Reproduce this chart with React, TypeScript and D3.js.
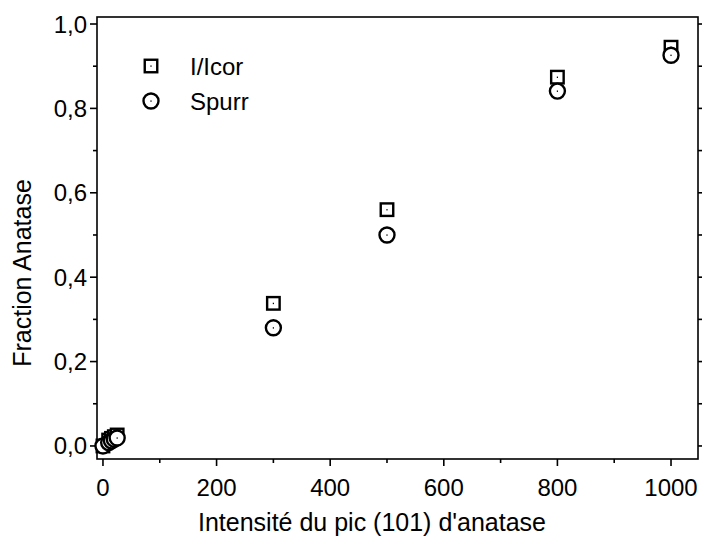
import React from "react";
import * as d3 from "d3";

const xValues = [0, 10, 15, 20, 25, 300, 500, 800, 1000];
const icorValues = [0, 0.014, 0.018, 0.022, 0.026, 0.338, 0.56, 0.874, 0.945];
const spurrValues = [0, 0.008, 0.012, 0.016, 0.019, 0.28, 0.5, 0.841, 0.926];
const xTicks = [0, 200, 400, 600, 800, 1000];
const xMinor = [100, 300, 500, 700, 900];
const yTicks = [0, 0.2, 0.4, 0.6, 0.8, 1.0];
const yMinor = [0.1, 0.3, 0.5, 0.7, 0.9];
const legendLabels = ["I/Icor", "Spurr"];

const W = 702, H = 544;
const L = 97, R = 698, T = 17, B = 459;
const FONT = "Arial, 'Liberation Sans', sans-serif";
const TICK_FS = 24;
const TITLE_FS = 25;

export default function App() {
  const x = d3.scaleLinear().domain([-10.5, 1047.5]).range([L, R]);
  const y = d3.scaleLinear().domain([-0.0309, 1.0166]).range([B, T]);
  const fmt = (v: number) => d3.format(".1f")(v).replace(".", ",");
  const sq = 12.5;
  const cr = 7.5;

  const square = (cx: number, cy: number, k: string) => (
    <g key={k}>
      <rect x={cx - sq / 2} y={cy - sq / 2} width={sq} height={sq} fill="white" stroke="black" strokeWidth={2.4} />
      <rect x={cx - 0.6} y={cy - 0.6} width={1.2} height={1.4} fill="black" />
    </g>
  );
  const circle = (cx: number, cy: number, k: string) => (
    <g key={k}>
      <circle cx={cx} cy={cy} r={cr} fill="white" stroke="black" strokeWidth={2.4} />
      <rect x={cx - 0.6} y={cy - 0.6} width={1.2} height={1.4} fill="black" />
    </g>
  );

  return (
    <svg width={W} height={H} style={{ position: "absolute", left: 0, top: 0, background: "white" }}>
      <rect x={0} y={0} width={W} height={H} fill="white" />
      <rect x={L} y={T} width={R - L} height={B - T} fill="none" stroke="black" strokeWidth={1.6} />
      {xTicks.map((t) => (
        <g key={"xt" + t}>
          <line x1={x(t)} x2={x(t)} y1={B} y2={B + 7} stroke="black" strokeWidth={1.6} />
          <text x={x(t)} y={B + 37} textAnchor="middle" fontFamily={FONT} fontSize={TICK_FS}>{t}</text>
        </g>
      ))}
      {xMinor.map((t) => (
        <line key={"xm" + t} x1={x(t)} x2={x(t)} y1={B} y2={B + 4} stroke="black" strokeWidth={1.6} />
      ))}
      {yTicks.map((t) => (
        <g key={"yt" + t}>
          <line x1={L} x2={L - 7} y1={y(t)} y2={y(t)} stroke="black" strokeWidth={1.6} />
          <line x1={R} x2={R + 7} y1={y(t)} y2={y(t)} stroke="black" strokeWidth={1.6} />
          <text x={L - 10} y={y(t) + 8.5} textAnchor="end" fontFamily={FONT} fontSize={TICK_FS}>{fmt(t)}</text>
        </g>
      ))}
      {yMinor.map((t) => (
        <g key={"ym" + t}>
          <line x1={L} x2={L - 4} y1={y(t)} y2={y(t)} stroke="black" strokeWidth={1.6} />
          <line x1={R} x2={R + 4} y1={y(t)} y2={y(t)} stroke="black" strokeWidth={1.6} />
        </g>
      ))}
      <text x={372} y={531} textAnchor="middle" fontFamily={FONT} fontSize={TITLE_FS}>Intensité du pic (101) d'anatase</text>
      <text transform={`translate(31, 273) rotate(-90)`} textAnchor="middle" fontFamily={FONT} fontSize={TITLE_FS}>Fraction Anatase</text>
      {xValues.map((v, i) => square(x(v), y(icorValues[i]), "s" + i))}
      {xValues.map((v, i) => circle(x(v), y(spurrValues[i]), "c" + i))}
      {square(151, 66, "ls")}
      <text x={190} y={75} fontFamily={FONT} fontSize={TICK_FS}>{legendLabels[0]}</text>
      {circle(151, 101, "lc")}
      <text x={190} y={110} fontFamily={FONT} fontSize={TICK_FS}>{legendLabels[1]}</text>
    </svg>
  );
}
